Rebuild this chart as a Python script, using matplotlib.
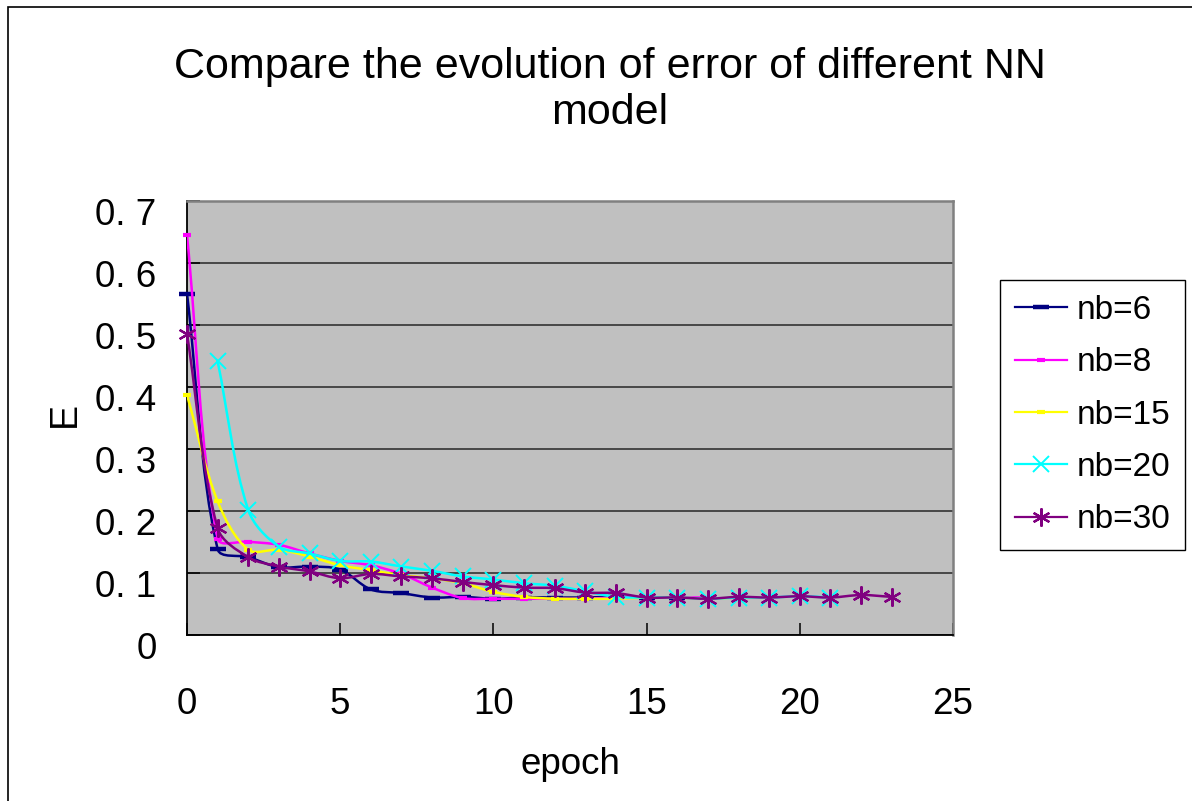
import matplotlib
matplotlib.use("Agg")
import matplotlib.pyplot as plt
import numpy as np
from matplotlib.path import Path
from matplotlib.patches import PathPatch, Rectangle
from matplotlib.lines import Line2D
from matplotlib.ticker import FixedLocator, FuncFormatter
from matplotlib.transforms import ScaledTranslation

plt.rcParams['font.family'] = ['Liberation Sans', 'DejaVu Sans']

# ---- data ----
epoch_nb6 = list(range(0, 17))
err_nb6 = [0.550, 0.138, 0.125, 0.109, 0.110, 0.105, 0.073, 0.067, 0.060,
           0.061, 0.058, 0.060, 0.060, 0.060, 0.061, 0.060, 0.060]

epoch_nb8 = list(range(0, 18))
err_nb8 = [0.644, 0.155, 0.150, 0.145, 0.131, 0.119, 0.112, 0.098, 0.076,
           0.059, 0.058, 0.058, 0.058, 0.058, 0.060, 0.060, 0.060, 0.060]

epoch_nb15 = list(range(0, 20))
err_nb15 = [0.387, 0.215, 0.137, 0.137, 0.126, 0.112, 0.104, 0.096, 0.091,
            0.083, 0.069, 0.061, 0.058, 0.058, 0.058, 0.060, 0.060, 0.058,
            0.060, 0.060]

epoch_nb20 = list(range(1, 22))
err_nb20 = [0.441, 0.201, 0.142, 0.131, 0.119, 0.118, 0.110, 0.103, 0.094,
            0.089, 0.083, 0.079, 0.070, 0.061, 0.060, 0.060, 0.058, 0.060,
            0.060, 0.062, 0.060]

epoch_nb30 = list(range(0, 24))
err_nb30 = [0.485, 0.172, 0.125, 0.110, 0.102, 0.091, 0.098, 0.094, 0.091,
            0.085, 0.080, 0.076, 0.075, 0.068, 0.067, 0.060, 0.060, 0.058,
            0.061, 0.060, 0.062, 0.060, 0.064, 0.061]

labels = ['nb=6', 'nb=8', 'nb=15', 'nb=20', 'nb=30']
x_ticks = [0, 5, 10, 15, 20, 25]
y_ticks = [0, 0.1, 0.2, 0.3, 0.4, 0.5, 0.6, 0.7]


def smooth_path(ax, xs, ys):
    """Excel style smoothed line: bezier segments, tangents scaled by screen lengths."""
    pts = ax.transData.transform(np.column_stack([xs, ys]))
    n = len(pts)
    verts = [pts[0]]
    codes = [Path.MOVETO]
    for i in range(n - 1):
        p0 = pts[i - 1] if i > 0 else pts[i]
        p1 = pts[i]
        p2 = pts[i + 1]
        p3 = pts[i + 2] if i + 2 < n else pts[i + 1]
        d01 = np.hypot(*(p1 - p0))
        d12 = np.hypot(*(p2 - p1))
        d23 = np.hypot(*(p3 - p2))
        f1 = d12 / (d01 + d12) / 3 if d01 + d12 > 0 else 0
        f2 = d12 / (d12 + d23) / 3 if d12 + d23 > 0 else 0
        verts += [p1 + (p2 - p0) * f1, p2 - (p3 - p1) * f2, p2]
        codes += [Path.CURVE4] * 3
    verts = ax.transData.inverted().transform(np.array(verts))
    return Path(verts, codes)


fig = plt.figure(figsize=(11.92, 8.01), dpi=100)
ax = fig.add_axes([187 / 1192, 1 - 634.7 / 801, 766 / 1192, 434 / 801])
ax.set_facecolor('#C0C0C0')
ax.set_xlim(0, 25)
ax.set_ylim(0, 0.7)
ax.set_autoscale_on(False)

ax.yaxis.set_major_locator(FixedLocator(y_ticks))
ax.xaxis.set_major_locator(FixedLocator(x_ticks))
ax.yaxis.set_major_formatter(FuncFormatter(lambda v, p: '0' if v == 0 else f'{v:.1f}'.replace('.', '. ')))
ax.grid(axis='y', color='#333333', linewidth=1.2)
ax.set_axisbelow(True)

for side in ['left', 'bottom']:
    ax.spines[side].set_color('black')
    ax.spines[side].set_linewidth(1.3)
for side in ['top', 'right']:
    ax.spines[side].set_color('#808080')
    ax.spines[side].set_linewidth(1.8)

ax.tick_params(axis='both', direction='in', length=9, width=1.1, labelsize=26.5, colors='black')
ax.tick_params(axis='y', pad=22)
ax.tick_params(axis='x', pad=38)

styles = [
    dict(color='#000080', marker='_', ms=11, mew=3.2),
    dict(color='#FF00FF', marker='_', ms=5.5, mew=3.0),
    dict(color='#FFFF00', marker='_', ms=5.5, mew=3.0),
    dict(color='#00FFFF', marker='x', ms=11, mew=1.4),
    dict(color='#800080', marker=(6, 2, 0), ms=13, mew=1.6),
]
series = [(epoch_nb6, err_nb6), (epoch_nb8, err_nb8), (epoch_nb15, err_nb15),
          (epoch_nb20, err_nb20), (epoch_nb30, err_nb30)]

handles = []
for k, ((xs, ys), st) in enumerate(zip(series, styles)):
    path = smooth_path(ax, xs, ys)
    ax.add_patch(PathPatch(path, facecolor='none', edgecolor=st['color'], lw=1.8, zorder=3 + 2 * k))
    ax.plot(xs, ys, linestyle='none', marker=st['marker'], ms=st['ms'], mew=st['mew'],
            color=st['color'], clip_on=False, zorder=4 + 2 * k)
    handles.append(Line2D([], [], color=st['color'], lw=1.6, marker=st['marker'],
                          ms=st['ms'], mew=st['mew']))

# Excel drops its tick labels a little below the gridline
off = ScaledTranslation(0, -0.11, fig.dpi_scale_trans)
for lab in ax.get_yticklabels():
    lab.set_transform(lab.get_transform() + off)

fig.text(65 / 1192, 1 - 414 / 801, 'E', rotation=90, fontsize=27, ha='center', va='center')
fig.text(570 / 1192, 1 - 765 / 801, 'epoch', fontsize=26.5, ha='center', va='center')
fig.text(610 / 1192, 1 - 90 / 801, 'Compare the evolution of error of different NN\nmodel',
         fontsize=31, ha='center', va='center', multialignment='center', linespacing=1.22)

leg = ax.legend(handles, labels, loc='upper left', bbox_to_anchor=(1000 / 1192, 1 - 280 / 801),
                bbox_transform=fig.transFigure, fontsize=24, frameon=True, fancybox=False,
                borderaxespad=0, handlelength=1.55, handletextpad=0.3, labelspacing=0.64,
                borderpad=0.45, numpoints=1)
leg.get_frame().set_edgecolor('black')
leg.get_frame().set_linewidth(1.0)
leg.get_frame().set_facecolor('white')
leg.get_frame().set_alpha(1)

# outer chart border (only left and top edges are inside the picture)
fig.add_artist(Rectangle((8 / 1192, -0.05), 1.2, (801 - 7) / 801 + 0.05, transform=fig.transFigure,
                         fill=False, edgecolor='black', linewidth=1.2, clip_on=False))

fig.savefig('out.png', dpi=100)
